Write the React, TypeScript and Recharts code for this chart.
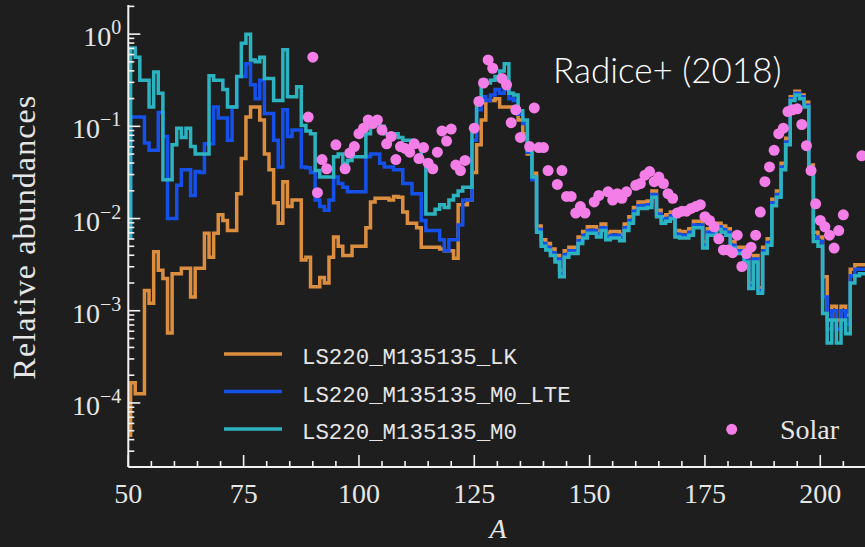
import { ComposedChart, Line, Scatter, XAxis, YAxis } from 'recharts'

// mass number of the first entry in each series array
const A_FIRST = 50

// log10 of relative abundance, one value per mass number A = 50..210
const lkLog = [
  -4.35, -3.78, -3.9, -3.9, -2.78, -2.92, -2.36, -2.56, -2.65, -3.24,
  -2.6, -2.6, -2.54, -2.54, -2.85, -2.54, -2.54, -2.16, -2.42, -2.16,
  -1.96, -2.02, -2.13, -2.13, -1.73, -1.35, -0.9, -0.79, -0.79, -0.93,
  -1.3, -1.47, -1.83, -2.05, -1.6, -1.87, -1.8, -1.8, -2.45, -2.42,
  -2.74, -2.74, -2.64, -2.7, -2.42, -2.2, -2.3, -2.4, -2.4, -2.3,
  -2.3, -2.3, -2.1, -1.82, -1.78, -1.78, -1.78, -1.8, -1.76, -1.77,
  -1.93, -2.05, -2.05, -2.1, -2.31, -2.31, -2.31, -2.31, -2.33, -2.35,
  -2.35, -2.43, -1.85, -1.85, -1.8, -1.5, -1.2, -0.93, -0.72, -0.72,
  -0.7, -0.79, -0.79, -0.79, -0.79, -0.93, -1.08, -1.3, -1.51, -2.08,
  -2.23, -2.27, -2.33, -2.4, -2.56, -2.35, -2.31, -2.31, -2.2, -2.14,
  -2.09, -2.09, -2.13, -2.06, -2.16, -2.14, -2.14, -2.17, -2.06, -1.98,
  -1.88, -1.82, -1.82, -1.81, -1.7, -1.91, -1.98, -1.96, -1.93, -2.13,
  -2.14, -2.14, -2.11, -2.03, -2.03, -2.25, -2.11, -2.11, -2.05, -2.08,
  -2.11, -2.25, -2.31, -2.31, -2.4, -2.7, -2.4, -2.75, -2.31, -2.22,
  -1.79, -1.7, -1.4, -1.13, -0.68, -0.62, -0.66, -0.74, -1.42, -2.15,
  -2.2, -2.63, -3.1, -2.95, -3.1, -2.95, -3.05, -2.55, -2.5, -2.5, -2.5,
]

const lteLog = [
  -2.2, -0.9, -0.9, -0.9, -1.18, -1.26, -1.26, -0.85, -1.11, -2.0,
  -2.0, -1.64, -1.47, -1.47, -1.75, -1.49, -1.5, -1.19, -1.19, -0.79,
  -0.91, -0.91, -1.15, -0.79, -0.46, -0.46, -0.32, -0.55, -0.7, -0.5,
  -0.86, -0.86, -1.15, -1.44, -0.82, -1.11, -1.04, -1.04, -1.44, -1.45,
  -1.5, -1.8, -1.87, -1.91, -1.8, -1.55, -1.62, -1.66, -1.71, -1.71,
  -1.71, -1.71, -1.33, -1.3, -1.3, -1.4, -1.44, -1.44, -1.47, -1.47,
  -1.62, -1.62, -1.73, -1.73, -2.02, -2.13, -2.13, -2.13, -2.23, -2.35,
  -2.23, -2.23, -2.07, -1.8, -1.8, -1.15, -0.82, -0.68, -0.72, -0.66,
  -0.6, -0.64, -0.6, -0.7, -0.72, -0.87, -0.97, -1.28, -1.58, -2.12,
  -2.27, -2.31, -2.37, -2.44, -2.6, -2.39, -2.35, -2.35, -2.24, -2.18,
  -2.13, -2.13, -2.17, -2.1, -2.2, -2.18, -2.18, -2.21, -2.1, -2.02,
  -1.92, -1.86, -1.86, -1.85, -1.74, -1.95, -2.02, -2.0, -1.97, -2.17,
  -2.18, -2.18, -2.15, -2.07, -2.07, -2.29, -2.15, -2.15, -2.09, -2.12,
  -2.15, -2.29, -2.35, -2.35, -2.44, -2.73, -2.44, -2.78, -2.35, -2.26,
  -1.83, -1.74, -1.44, -1.17, -0.7, -0.64, -0.68, -0.77, -1.45, -2.2,
  -2.25, -2.85, -3.2, -3.0, -3.2, -3.0, -3.15, -2.62, -2.55, -2.55, -2.55,
]

const m0Log = [
  -2.2, -0.15, -0.25, -0.5, -0.5, -0.79, -0.41, -0.64, -1.58, -1.58,
  -1.2, -1.02, -1.12, -1.02, -1.22, -1.3, -1.3, -1.3, -0.45, -0.5,
  -0.5, -0.6, -0.79, -0.79, -0.46, -0.1, 0.0, -0.28, -0.3, -0.25,
  -0.48, -0.48, -0.72, -0.72, -0.17, -0.68, -0.68, -0.57, -0.99, -1.05,
  -1.08, -1.48, -1.55, -1.55, -1.55, -1.33, -1.3, -1.4, -1.37, -1.33,
  -1.33, -1.33, -1.08, -0.93, -0.93, -1.0, -1.08, -1.08, -1.08, -1.12,
  -1.15, -1.15, -1.22, -1.22, -1.37, -1.95, -1.95, -1.9, -1.85, -1.88,
  -1.8, -1.75, -1.7, -1.66, -1.66, -1.0, -0.7, -0.5, -0.53, -0.5,
  -0.46, -0.4, -0.32, -0.64, -0.66, -0.83, -0.93, -1.26, -1.55, -2.15,
  -2.3, -2.34, -2.4, -2.47, -2.63, -2.42, -2.38, -2.38, -2.27, -2.21,
  -2.16, -2.16, -2.2, -2.13, -2.23, -2.21, -2.21, -2.24, -2.13, -2.05,
  -1.95, -1.89, -1.89, -1.88, -1.77, -1.98, -2.05, -2.03, -2.0, -2.2,
  -2.21, -2.21, -2.18, -2.1, -2.1, -2.32, -2.18, -2.18, -2.12, -2.15,
  -2.18, -2.32, -2.38, -2.38, -2.47, -2.76, -2.47, -2.81, -2.38, -2.29,
  -1.86, -1.77, -1.47, -1.2, -0.72, -0.66, -0.7, -0.79, -1.51, -2.25,
  -2.3, -3.03, -3.35, -3.1, -3.35, -3.1, -3.25, -2.7, -2.62, -2.6, -2.6,
]

const solarA = [
  89, 90, 91, 92, 93, 95, 97, 98, 99, 100,
  101, 102, 103, 104, 105, 106, 107, 108, 109, 110,
  111, 112, 113, 114, 115, 116, 117, 118, 119, 120,
  121, 122, 123, 125, 126, 127, 128, 129, 131, 132,
  133, 134, 135, 137, 138, 139, 140, 141, 143, 144,
  145, 146, 147, 148, 149, 151, 152, 154, 155, 156,
  157, 158, 160, 161, 162, 163, 164, 165, 166, 167,
  168, 169, 170, 171, 172, 173, 174, 175, 176, 177,
  178, 179, 180, 181, 182, 183, 184, 185, 186, 187,
  188, 189, 190, 191, 192, 193, 194, 195, 196, 197,
  198, 199, 200, 201, 202, 203, 204, 205, 209,
]

const solarLog = [
  -0.9, -0.25, -1.72, -1.36, -1.46, -1.2, -1.46, -1.29, -1.22, -1.08,
  -1.02, -0.93, -0.97, -0.93, -1.04, -1.19, -1.11, -1.36, -1.22, -1.24,
  -1.28, -1.19, -1.35, -1.23, -1.4, -1.46, -1.28, -1.05, -1.16, -1.03,
  -1.42, -1.48, -1.37, -1.02, -0.73, -0.53, -0.28, -0.37, -0.48, -0.55,
  -0.96, -0.82, -1.12, -1.22, -0.8, -1.23, -1.23, -1.48, -1.63, -1.48,
  -1.76, -1.76, -1.94, -1.87, -1.94, -1.82, -1.75, -1.71, -1.8, -1.73,
  -1.78, -1.71, -1.64, -1.62, -1.53, -1.49, -1.6, -1.55, -1.62, -1.73,
  -1.78, -1.94, -1.92, -1.92, -1.89, -1.87, -1.85, -1.98, -2.02, -2.09,
  -2.22, -2.34, -2.34, -2.37, -2.18, -2.52, -2.38, -2.31, -2.18, -1.93,
  -1.6, -1.44, -1.26, -1.08, -1.02, -0.84, -0.82, -0.81, -0.98, -1.21,
  -1.48, -1.84, -2.02, -2.09, -2.18, -2.32, -2.13, -1.96, -1.32,
]

const xTicks = [
  50, 55, 60, 65, 70, 75, 80, 85, 90, 95, 100, 105, 110, 115, 120, 125, 130,
  135, 140, 145, 150, 155, 160, 165, 170, 175, 180, 185, 190, 195, 200, 205, 210,
]
const xLabels = [50, 75, 100, 125, 150, 175, 200]
const yDecades = [-5, -4, -3, -2, -1, 0]
const yLabels = [-4, -3, -2, -1, 0]

const seriesNames = ['LS220_M135135_LK', 'LS220_M135135_M0_LTE', 'LS220_M135135_M0']

const Y_MIN = 2.02e-5
const Y_MAX = 2.07

const BG = '#1e1e1e'
const AXIS = '#f2f2f2'
const TEXT = '#e6e6e6'
const SERIF = '"Liberation Serif", "DejaVu Serif", serif'
const MONO = '"Liberation Mono", "DejaVu Sans Mono", monospace'
const C_LK = '#dc8e40'
const C_LTE = '#1551e8'
const C_M0 = '#2cb3bf'
const C_SOLAR = '#f47ee7'

const rows = m0Log.map((v, i) => ({
  A: A_FIRST + i,
  lk: 10 ** lkLog[i],
  lte: 10 ** lteLog[i],
  m0: 10 ** v,
}))

const solarRows = solarA.map((a, i) => ({ A: a, sol: 10 ** solarLog[i] }))

const yTicks: number[] = []
yDecades.forEach((d) => {
  for (let m = 1; m <= 9; m++) {
    const v = m * 10 ** d
    if (v >= Y_MIN && v <= Y_MAX) yTicks.push(v)
  }
})

const decadeOf = (v: number) => {
  const e = Math.log10(v)
  return Math.abs(e - Math.round(e)) < 1e-6 ? Math.round(e) : null
}

function BottomTick(p: any) {
  const { x, y, payload } = p
  const major = xLabels.includes(payload.value)
  return (
    <g>
      <line x1={x} x2={x} y1={y} y2={y - (major ? 12 : 6)} stroke={AXIS} strokeWidth={1.6} />
      {major && (
        <text x={x} y={y + 36} textAnchor="middle" fill={TEXT} fontFamily={SERIF} fontSize={28}>
          {payload.value}
        </text>
      )}
    </g>
  )
}

function TopTick(p: any) {
  const { x, y, payload } = p
  const major = xLabels.includes(payload.value)
  return <line x1={x} x2={x} y1={y} y2={y + (major ? 12 : 6)} stroke={AXIS} strokeWidth={1.6} />
}

function LeftTick(p: any) {
  const { x, y, payload } = p
  const d = decadeOf(payload.value)
  const major = d !== null
  return (
    <g>
      <line x1={x} x2={x + (major ? 12 : 6)} y1={y} y2={y} stroke={AXIS} strokeWidth={1.6} />
      {major && yLabels.includes(d as number) && (
        <text x={x - 7} y={y + 12} textAnchor="end" fill={TEXT} fontFamily={SERIF} fontSize={28}>
          10
          <tspan dy={-12} fontSize={20}>
            {d === 0 ? '0' : '\u2212' + Math.abs(d as number)}
          </tspan>
        </text>
      )}
    </g>
  )
}

function RightTick(p: any) {
  const { x, y, payload } = p
  const major = decadeOf(payload.value) !== null
  return <line x1={x} x2={x - (major ? 12 : 6)} y1={y} y2={y} stroke={AXIS} strokeWidth={1.6} />
}

const legendColors = [C_LK, C_LTE, C_M0]

export default function App() {
  return (
    <div style={{ position: 'relative', width: 865, height: 547, overflow: 'hidden', background: BG }}>
      <style>{'body{margin:0;background:' + BG + '}'}</style>
      <ComposedChart
        width={880}
        height={547}
        data={rows}
        margin={{ top: 5, right: 13.6, bottom: 0, left: 0 }}
        style={{ position: 'absolute', left: 0, top: 0 }}
      >
        <XAxis
          dataKey="A"
          type="number"
          domain={[50, 210]}
          ticks={xTicks}
          interval={0}
          height={80}
          tickSize={0}
          tickMargin={0}
          tickLine={false}
          axisLine={{ stroke: AXIS, strokeWidth: 2 }}
          tick={(p: any) => <BottomTick {...p} />}
          allowDataOverflow
        />
        <XAxis
          xAxisId="top"
          orientation="top"
          type="number"
          domain={[50, 210]}
          ticks={xTicks}
          interval={0}
          height={0}
          tickSize={0}
          tickMargin={0}
          tickLine={false}
          axisLine={{ stroke: AXIS, strokeWidth: 2 }}
          tick={(p: any) => <TopTick {...p} />}
          allowDataOverflow
        />
        <YAxis
          type="number"
          scale="log"
          domain={[Y_MIN, Y_MAX]}
          ticks={yTicks}
          interval={0}
          width={128.3}
          tickSize={0}
          tickMargin={0}
          tickLine={false}
          axisLine={{ stroke: AXIS, strokeWidth: 2 }}
          tick={(p: any) => <LeftTick {...p} />}
          allowDataOverflow
        />
        <YAxis
          yAxisId="right"
          orientation="right"
          type="number"
          scale="log"
          domain={[Y_MIN, Y_MAX]}
          ticks={yTicks}
          interval={0}
          width={0}
          tickSize={0}
          tickMargin={0}
          tickLine={false}
          axisLine={{ stroke: AXIS, strokeWidth: 2 }}
          tick={(p: any) => <RightTick {...p} />}
          allowDataOverflow
        />
        <Line type="step" dataKey="lk" stroke={C_LK} strokeWidth={3.5} dot={false} isAnimationActive={false} />
        <Line type="step" dataKey="lte" stroke={C_LTE} strokeWidth={3.5} dot={false} isAnimationActive={false} />
        <Line type="step" dataKey="m0" stroke={C_M0} strokeWidth={3.5} dot={false} isAnimationActive={false} />
        <Scatter
          data={solarRows}
          dataKey="sol"
          fill={C_SOLAR}
          isAnimationActive={false}
          shape={(p: any) => <circle cx={p.cx} cy={p.cy} r={5.5} fill={C_SOLAR} />}
        />
      </ComposedChart>
      <svg width={865} height={547} style={{ position: 'absolute', left: 0, top: 0, pointerEvents: 'none' }}>
        <text
          transform="translate(35, 237) rotate(-90)"
          textAnchor="middle"
          fill={TEXT}
          fontFamily={SERIF}
          fontSize={32}
          letterSpacing={1.1}
        >
          Relative abundances
        </text>
        <text x={498} y={538} textAnchor="middle" fill={TEXT} fontFamily={SERIF} fontStyle="italic" fontSize={28}>
          A
        </text>
        <text x={553} y={83} fill="#ffffff" fontFamily="Lato, sans-serif" fontWeight={300} fontSize={35}>
          Radice+ (2018)
        </text>
        {seriesNames.map((name, i) => (
          <g key={name}>
            <line x1={224} x2={282} y1={354 + i * 37.5} y2={354 + i * 37.5} stroke={legendColors[i]} strokeWidth={3.5} />
            <text x={302} y={364 + i * 37.5} fill={TEXT} fontFamily={MONO} fontSize={22.4}>
              {name}
            </text>
          </g>
        ))}
        <circle cx={731.7} cy={429.3} r={5.5} fill={C_SOLAR} />
        <text x={780} y={439} fill={TEXT} fontFamily={SERIF} fontSize={28}>
          Solar
        </text>
      </svg>
    </div>
  )
}
